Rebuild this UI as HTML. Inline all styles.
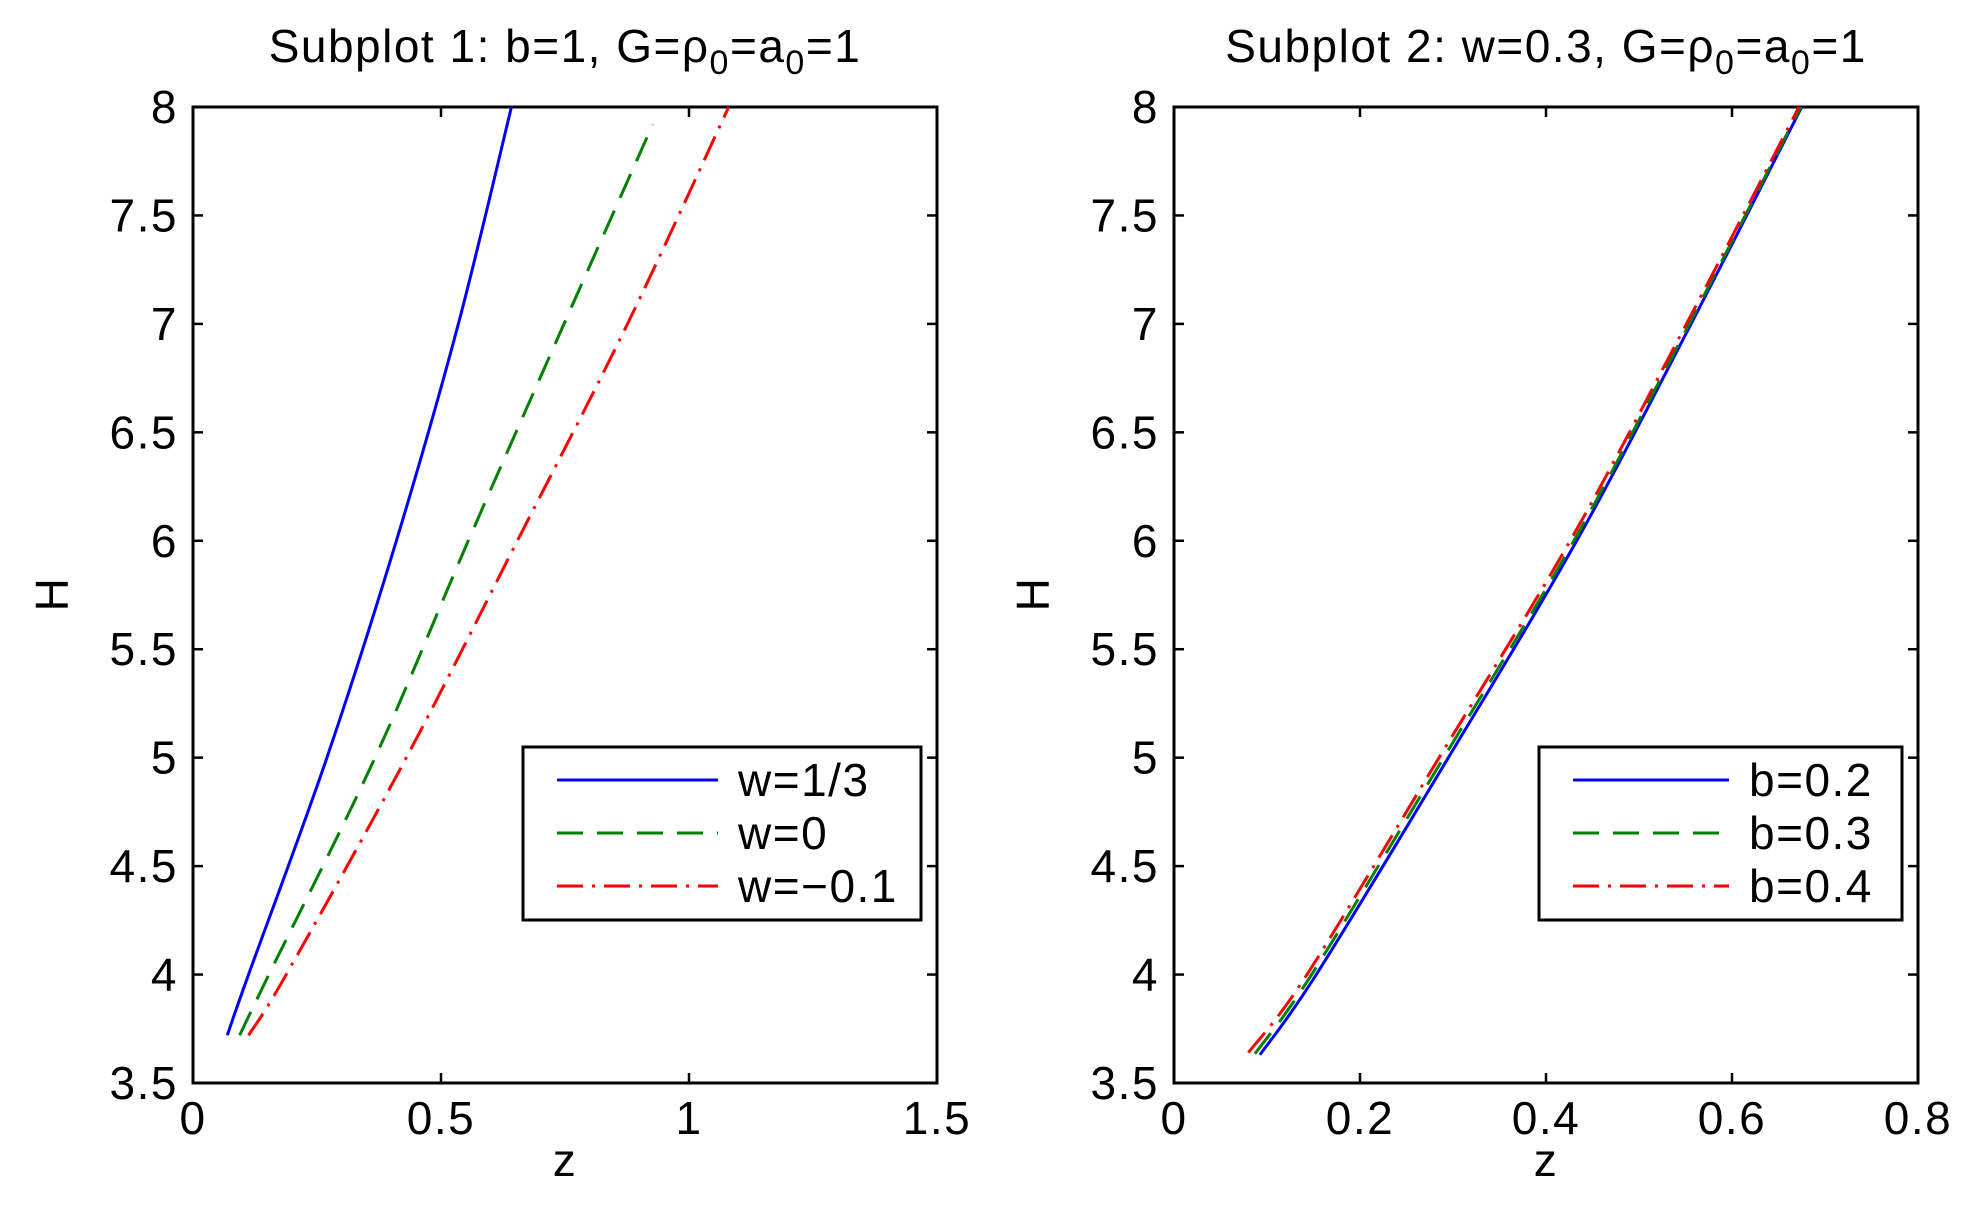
<!DOCTYPE html>
<html><head><meta charset="utf-8"><style>
html,body{margin:0;padding:0;background:#fff}
svg text{font-family:"Liberation Sans",sans-serif;fill:#000;letter-spacing:1.5px}
</style></head><body>
<svg id="c" width="1980" height="1214" xmlns="http://www.w3.org/2000/svg"></svg>
<script>
const yTicks=[3.5,4,4.5,5,5.5,6,6.5,7,7.5,8];
const xTicks1=[0,0.5,1,1.5];
const xTicks2=[0,0.2,0.4,0.6,0.8];
const hVals=[3.72,4,5,6,7,8];
const w13Z=[0.069,0.112,0.27,0.41,0.535,0.642];
const w0H=[3.72,4,5,6,7,7.92];
const w0Z=[0.094,0.153,0.367,0.555,0.748,0.927];
const wm01Z=[0.112,0.188,0.43,0.654,0.876,1.08];
const b2H=[3.63,4,5,6,7,8];
const b2Z=[0.0924,0.153,0.295,0.433,0.556,0.675];
const b3H=[3.635,4,5,6,7,8];
const b3Z=[0.087,0.148,0.29,0.43,0.554,0.674];
const b4H=[3.64,4,5,6,7,8];
const b4Z=[0.08,0.143,0.285,0.426,0.551,0.672];

const NS="http://www.w3.org/2000/svg";
const svg=document.getElementById('c');
function el(t,a,p){const e=document.createElementNS(NS,t);for(const k in a)e.setAttribute(k,a[k]);(p||svg).appendChild(e);return e;}
const B=1083,W=744,TOP=107,FS=46;
function panel(x0,xmax,xt,title,name){
  const g=el('g',{});
  
  
  const sx=v=>x0+v/xmax*W, sy=v=>B-(v-3.5)/4.5*(B-TOP);
  const ax=el('rect',{x:x0,y:TOP,width:W,height:B-TOP,fill:'none',stroke:'#000','stroke-width':3},g);
  
  yTicks.forEach(v=>{const y=sy(v);
    el('line',{x1:x0,x2:x0+10,y1:y,y2:y,stroke:'#000','stroke-width':2.5},g);
    el('line',{x1:x0+W,x2:x0+W-10,y1:y,y2:y,stroke:'#000','stroke-width':2.5},g);
    const t=el('text',{x:x0-15,y:y+16,'font-size':FS,'text-anchor':'end'},g);t.textContent=String(v);
    });
  xt.forEach(v=>{const x=sx(v);
    el('line',{x1:x,x2:x,y1:B,y2:B-10,stroke:'#000','stroke-width':2.5},g);
    el('line',{x1:x,x2:x,y1:TOP,y2:TOP+10,stroke:'#000','stroke-width':2.5},g);
    const t=el('text',{x:x,y:1134,'font-size':FS,'text-anchor':'middle'},g);t.textContent=String(v);
    });
  const xl=el('text',{x:x0+W/2,y:1176,'font-size':FS,'text-anchor':'middle'},g);xl.textContent='z';
  
  const yl=el('text',{x:0,y:0,'font-size':FS,'text-anchor':'middle',transform:`translate(${x0-125},594) rotate(-90)`},g);yl.textContent='H';
  
  const tt=el('text',{x:x0+W/2,y:62,'font-size':FS,'text-anchor':'middle'},g);
  
  tt.innerHTML=title;
  return {g,sx,sy};
}
function curve(p,zs,hs,color,dash,name){
  const pts=zs.map((z,i)=>[p.sx(z),p.sy(hs[i])]);
  let d=`M${pts[0][0]},${pts[0][1]}`;
  for(let i=0;i<pts.length-1;i++){
    const p0=pts[Math.max(0,i-1)],p1=pts[i],p2=pts[i+1],p3=pts[Math.min(pts.length-1,i+2)];
    d+=` C${p1[0]+(p2[0]-p0[0])/6},${p1[1]+(p2[1]-p0[1])/6} ${p2[0]-(p3[0]-p1[0])/6},${p2[1]-(p3[1]-p1[1])/6} ${p2[0]},${p2[1]}`;
  }
  const e=el('path',{d,fill:'none',stroke:color,'stroke-width':3,'stroke-dasharray':dash},p.g);
  
  
}
function legend(g,x,y,w,entries,name){
  const lg=el('g',{},g);
  
  
  el('rect',{x,y,width:w,height:173,fill:'#fff',stroke:'#000','stroke-width':3},lg);
  entries.forEach((en,i)=>{const yy=y+33+i*53;
    el('line',{x1:x+34,x2:x+34+(w>380?161:156),y1:yy,y2:yy,stroke:en[1],'stroke-width':3,'stroke-dasharray':en[2]},lg);
    const t=el('text',{x:x+(w>380?215:210),y:yy+16,'font-size':FS},lg);t.textContent=en[0];
    });
}
const DASH='26 14',DD='26 9 3 9';
const sub='<tspan dy="12" font-size="34">0</tspan>';
const p1=panel(193,1.5,xTicks1,`Subplot 1: b=1, G=ρ${sub}<tspan dy="-12">=a</tspan>${sub}<tspan dy="-12">=1</tspan>`,'subplot-1');
curve(p1,w13Z,hVals,'#0000ff','none','line-w-1-3');
curve(p1,w0Z,w0H,'#008000',DASH,'line-w-0');
curve(p1,wm01Z,hVals,'#ff0000',DD,'line-w-neg-0-1');
legend(p1.g,523,747,398,[['w=1/3','#0000ff','none'],['w=0','#008000',DASH],['w=−0.1','#ff0000',DD]],'legend-1');
const p2=panel(1174,0.8,xTicks2,`Subplot 2: w=0.3, G=ρ${sub}<tspan dy="-12">=a</tspan>${sub}<tspan dy="-12">=1</tspan>`,'subplot-2');
curve(p2,b2Z,b2H,'#0000ff','none','line-b-0-2');
curve(p2,b3Z,b3H,'#008000',DASH,'line-b-0-3');
curve(p2,b4Z,b4H,'#ff0000',DD,'line-b-0-4');
legend(p2.g,1539,747,363,[['b=0.2','#0000ff','none'],['b=0.3','#008000',DASH],['b=0.4','#ff0000',DD]],'legend-2');
</script>
</body></html>
